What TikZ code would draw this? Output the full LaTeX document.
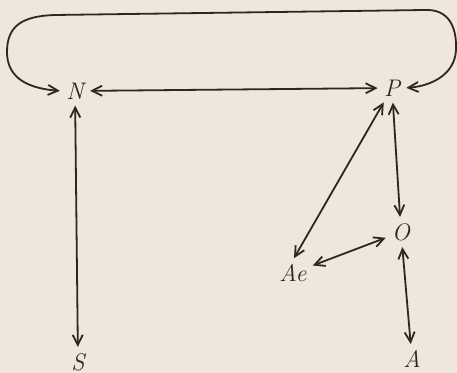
\documentclass[tikz,border=0pt]{standalone}
\usepackage{xcolor}
\usepackage{tikz}
\usetikzlibrary{arrows.meta}
\definecolor{paper}{HTML}{EFE7DC}
\definecolor{ink}{HTML}{2B2723}

\begin{document}
\begin{tikzpicture}[
 x=0.5pt,y=-0.5pt,
 letter/.style={text=ink,inner sep=2pt,font=\large\itshape},
 link/.style={{Straight Barb[length=5pt,width=5pt]}-{Straight Barb[length=5pt,width=5pt]},line width=0.9pt,draw=ink,shorten <=1pt,shorten >=1pt}
]
\fill[paper] (0,0) rectangle (457,373);
\useasboundingbox (0,0) rectangle (457,373);
\node[letter] (N) at (75,91) {N};
\node[letter] (P) at (392,88) {P};
\node[letter] (S) at (78,362) {S};
\node[letter] (Ae) at (293,273) {Ae};
\node[letter] (O) at (401,232) {O};
\node[letter] (A) at (412,359) {A};
\draw[link] (N) -- (P);
\draw[link] (N) -- (S);
\draw[link] (P) -- (Ae.north);
\draw[link] (P) -- (O);
\draw[link] (O) -- (Ae);
\draw[link] (O) -- (A);
% loop over the top
\draw[link] (N.west) .. controls (22,88) and (7,74) .. (7,52)
 .. controls (7,26) and (22,16) .. (55,15) -- (425,10)
 .. controls (448,9) and (457,26) .. (456,50)
 .. controls (455,74) and (432,86) .. (P.east);
\end{tikzpicture}
\end{document}
